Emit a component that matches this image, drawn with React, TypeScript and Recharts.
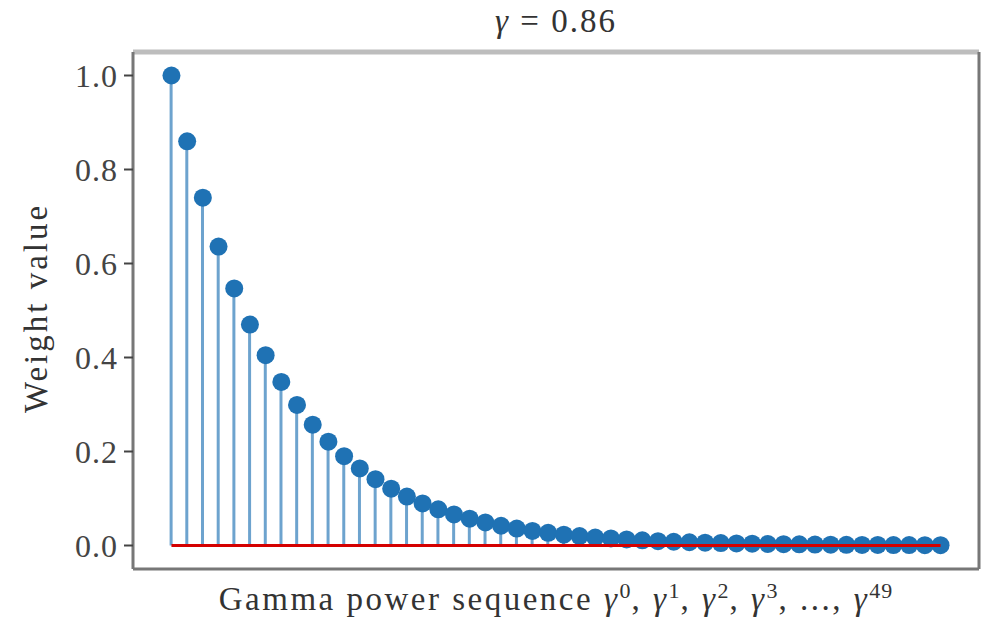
import { ComposedChart, Bar, Scatter, XAxis, YAxis } from "recharts";

const gamma = "0.86";
// powers 0..49, values read from the stem heads
const powers = [
  0, 1, 2, 3, 4, 5, 6, 7, 8, 9, 10, 11, 12, 13, 14, 15, 16, 17, 18, 19, 20, 21, 22, 23, 24,
  25, 26, 27, 28, 29, 30, 31, 32, 33, 34, 35, 36, 37, 38, 39, 40, 41, 42, 43, 44, 45, 46, 47, 48, 49,
];
const weights = [
  1.0, 0.86, 0.74, 0.636, 0.547, 0.47, 0.405, 0.348, 0.299, 0.257, 0.221, 0.19, 0.164, 0.141,
  0.121, 0.104, 0.0895, 0.077, 0.066, 0.057, 0.049, 0.042, 0.036, 0.031, 0.027, 0.023, 0.02,
  0.017, 0.015, 0.013, 0.011, 0.0093, 0.008, 0.0069, 0.0059, 0.0051, 0.0044, 0.0038, 0.0032,
  0.0028, 0.0024, 0.0021, 0.0018, 0.0015, 0.0013, 0.0011, 0.00097, 0.00083, 0.00072, 0.00062,
];
const baseline = [
  { k: 0, w: 0 },
  { k: 49, w: 0 },
];
const yTicks = [0, 0.2, 0.4, 0.6, 0.8, 1.0];

const data = powers.map((k, i) => ({ k, w: weights[i] }));

const FONT = "'Liberation Serif', 'DejaVu Serif', serif";
const BLUE = "#1f72b4";
const sup = { fontSize: 22, letterSpacing: 1 };

export default function App() {
  return (
    <div style={{ position: "absolute", left: 0, top: 0, width: 992, height: 619, fontFamily: FONT, color: "#333" }}>
      <ComposedChart width={992} height={619} data={data} margin={{ top: 51, right: 12, bottom: 49, left: 132 }}>
        <XAxis
          dataKey="k"
          type="number"
          domain={[-2.45, 51.45]}
          tick={false}
          tickLine={false}
          height={1}
          axisLine={{ stroke: "#777", strokeWidth: 3 }}
        />
        <XAxis
          xAxisId="top"
          orientation="top"
          dataKey="k"
          type="number"
          domain={[-2.45, 51.45]}
          tick={false}
          tickLine={false}
          height={1}
          axisLine={{ stroke: "#bdbdbd", strokeWidth: 5 }}
        />
        <YAxis
          type="number"
          domain={[-0.05, 1.05]}
          ticks={yTicks}
          width={1}
          tickSize={9}
          tickMargin={6}
          tickFormatter={(v: number) => v.toFixed(1)}
          tick={{ fontFamily: FONT, fontSize: 32, fill: "#444", letterSpacing: 1 }}
          tickLine={{ stroke: "#444", strokeWidth: 2 }}
          axisLine={{ stroke: "#777", strokeWidth: 3 }}
        />
        <YAxis
          yAxisId="right"
          orientation="right"
          type="number"
          domain={[-0.05, 1.05]}
          tick={false}
          tickLine={false}
          width={1}
          axisLine={{ stroke: "#777", strokeWidth: 3 }}
        />
        <Bar dataKey="w" barSize={3} fill={BLUE} fillOpacity={0.65} isAnimationActive={false} />
        <Scatter
          dataKey="w"
          isAnimationActive={false}
          shape={(p: any) => <circle cx={p.cx} cy={p.cy} r={9} fill={BLUE} />}
        />
        <Scatter
          data={baseline}
          dataKey="w"
          isAnimationActive={false}
          line={{ stroke: "#d40000", strokeWidth: 3 }}
          shape={() => <g />}
        />
      </ComposedChart>

      <div style={{ position: "absolute", left: 133, width: 846, top: 3, textAlign: "center", fontSize: 33, letterSpacing: 2 }}>
        <i>γ</i> = {gamma}
      </div>
      <div
        style={{
          position: "absolute",
          left: 36,
          top: 308,
          transform: "translate(-50%, -50%) rotate(-90deg)",
          whiteSpace: "nowrap",
          fontSize: 33,
          letterSpacing: 3,
        }}
      >
        Weight value
      </div>
      <div
        style={{
          position: "absolute",
          left: 133,
          width: 846,
          top: 578,
          textAlign: "center",
          fontSize: 33,
          letterSpacing: 2.5,
          whiteSpace: "nowrap",
        }}
      >
        Gamma power sequence <i>γ</i>
        <sup style={sup}>0</sup>, <i>γ</i>
        <sup style={sup}>1</sup>, <i>γ</i>
        <sup style={sup}>2</sup>, <i>γ</i>
        <sup style={sup}>3</sup>, ..., <i>γ</i>
        <sup style={sup}>49</sup>
      </div>
    </div>
  );
}
